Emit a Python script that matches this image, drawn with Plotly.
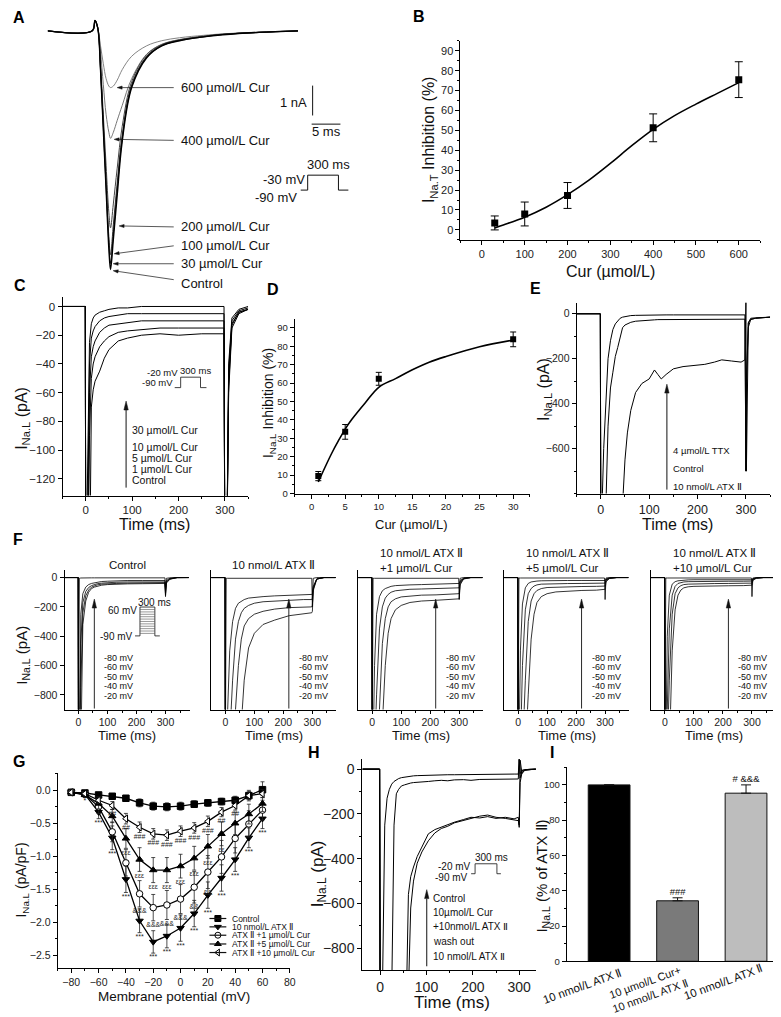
import math
import plotly.graph_objects as go

W, H = 781, 1017
FONT = "Liberation Sans, Arial, Helvetica, sans-serif"

# ---------------- DATA ----------------
# Panel A: transient Na current traces (time in ms, current in nA)
A_time = [-8, 0, 0.5, 1.0, 1.5, 2.0, 2.5, 3.0, 3.3, 3.8, 4.5, 5.4, 7.1, 9.8, 12.5, 15.7, 20, 23.5, 30, 37]
A_control = [0, 0, 0.35, 0.1, -1.3, -3.3, -5.3, -7.3, -8.0, -7.0, -5.5, -3.7, -1.9, -0.9, -0.5, -0.33, -0.2, -0.13, -0.05, 0]
A_cur30 = [0, 0, 0.35, 0.1, -1.3, -3.2, -5.2, -7.1, -7.8, -6.8, -5.3, -3.6, -1.85, -0.88, -0.5, -0.32, -0.2, -0.12, -0.05, 0]
A_cur100 = [0, 0, 0.35, 0.1, -1.25, -3.1, -5.0, -6.9, -7.5, -6.5, -5.1, -3.5, -1.8, -0.85, -0.48, -0.31, -0.19, -0.12, -0.05, 0]
A_cur200 = [0, 0, 0.35, 0.1, -1.1, -2.8, -4.5, -6.1, -6.6, -5.8, -4.6, -3.2, -1.7, -0.8, -0.46, -0.3, -0.18, -0.11, -0.05, 0]
A_cur400 = [0, 0, 0.33, 0.1, -0.7, -1.8, -2.8, -3.4, -3.6, -3.4, -3.0, -2.5, -1.6, -0.78, -0.45, -0.29, -0.18, -0.11, -0.05, 0]
A_cur600 = [0, 0, 0.3, 0.1, -0.5, -1.1, -1.6, -1.85, -1.9, -1.85, -1.65, -1.3, -0.85, -0.5, -0.33, -0.23, -0.15, -0.1, -0.04, 0]
A_labels = ["600 µmol/L Cur", "400 µmol/L Cur", "200 µmol/L Cur", "100 µmol/L Cur", "30 µmol/L Cur", "Control"]

# Panel B
B_cur = [30, 100, 200, 400, 600]
B_inh = [3.5, 8.0, 17.3, 51.3, 75.5]
B_err = [3.5, 6.0, 6.5, 7.0, 9.0]
B_fit_x = [30, 50, 100, 150, 200, 250, 300, 350, 400, 450, 500, 550, 600]
B_fit_y = [1.0, 2.5, 6.4, 11.4, 17.7, 25.0, 33.4, 42.3, 50.5, 57.4, 63.2, 68.6, 74.0]

# Panel C: late Na current (ms, pA)
C_time = [-50, -1, 0, 4, 8, 12, 16, 20, 30, 40, 50, 70, 90, 120, 160, 200, 250, 298, 300, 303, 308, 315, 330, 350]
C_control = [0, 0, -200, -200, -200, -70, -58, -52, -45, -36, -30, -24, -22, -20, -19, -20, -19, -19, -200, -200, -60, -15, -5, -2]
C_cur1 = [0, 0, -200, -200, -90, -50, -40, -35, -28, -24, -21, -18, -17, -16, -15, -15, -15, -15, -200, -200, -55, -13, -4, -2]
C_cur5 = [0, 0, -200, -200, -60, -35, -28, -24, -18, -15, -13, -12, -11, -10, -10, -10, -10, -10, -200, -200, -50, -12, -4, -2]
C_cur10 = [0, 0, -200, -150, -40, -22, -17, -14, -10, -8, -7, -6, -5, -5, -5, -5, -5, -5, -200, -200, -45, -10, -3, -1]
C_cur30 = [0, 0, -200, -120, -25, -12, -8, -6, -4, -3, -2, -1, -1, 0, 0, 0, 0, 0, -200, -200, -40, -8, -2, 0]
C_labels = ["30 µmol/L Cur", "10 µmol/L Cur", "5 µmol/L Cur", "1 µmol/L Cur", "Control"]

# Panel D
D_cur = [1, 5, 10, 30]
D_inh = [9.5, 33.5, 62.3, 83.7]
D_err = [2.5, 4.0, 3.5, 4.0]
D_fit_x = [1, 2, 3, 4, 5, 6, 8, 10, 12.5, 15, 17.5, 20, 25, 30]
D_fit_y = [6.3, 14.3, 21.9, 28.7, 35.0, 40.3, 49.3, 57.7, 62.4, 67.2, 71.3, 74.4, 79.7, 83.3]

# Panel E
E_time = [-50, -1, 0, 2, 6, 10, 15, 20, 25, 30, 35, 40, 45, 50, 55, 62, 72, 85, 100, 111, 118, 125, 135, 150, 170,
          190, 215, 235, 250, 270, 290, 298, 300, 301, 305, 310, 320, 350]
E_ttx = [0, 0, -900, -900, -600, -420, -200, -120, -70, -45, -30, -20, -15, -12, -10, -8, -7, -6, -5, -5, -5, -5,
         -5, -5, -5, -5, -5, -5, -5, -5, -5, -5, -700, -300, -40, -20, -18, -15]
E_control = [0, 0, -900, -900, -900, -900, -500, -330, -260, -190, -150, -100, -62, -50, -45, -38, -33, -30, -28,
             -27, -26, -26, -25, -25, -25, -25, -24, -24, -24, -24, -24, -24, -700, -300, -60, -25, -20, -15]
E_atx = [0, 0, -900, -900, -900, -900, -900, -900, -900, -900, -900, -900, -850, -650, -530, -430, -350, -310,
         -290, -250, -270, -290, -270, -245, -235, -230, -225, -215, -205, -210, -215, -205, 50, -700, -40, -25,
         -20, -15]
E_labels = ["4 µmol/L TTX", "Control", "10 nmol/L ATX Ⅱ"]

# Panel F: late Na current at -80,-60,-50,-40,-20 mV
F_time = [-50, -1, 0, 3, 8, 15, 25, 35, 45, 55, 65, 80, 100, 130, 170, 220, 270, 298, 300, 303, 315, 340, 380]
F_volt_labels = ["-80 mV", "-60 mV", "-50 mV", "-40 mV", "-20 mV"]
F_titles = ["Control", "10 nmol/L ATX Ⅱ", "10 nmol/L ATX Ⅱ<br>+1 µmol/L Cur",
            "10 nmol/L ATX Ⅱ<br>+5 µmol/L Cur", "10 nmol/L ATX Ⅱ<br>+10 µmol/L Cur"]
F_control = [
    [0, 0, -1200, -5, -3, -2, -2, -2, -2, -2, -2, -2, -2, -2, -2, -2, -2, -2, -120, -5, -2, 0, 0],
    [0, 0, -1200, -1200, -250, -110, -65, -48, -40, -35, -30, -27, -25, -22, -20, -20, -20, -20, -70, -20, -5, 0, 0],
    [0, 0, -1200, -1200, -450, -170, -95, -68, -55, -48, -42, -38, -35, -32, -30, -30, -30, -30, -90, -28, -8, 0, 0],
    [0, 0, -1200, -1200, -750, -240, -125, -85, -65, -55, -50, -45, -42, -40, -38, -36, -35, -35, -110, -32, -10, 0, 0],
    [0, 0, -1200, -1200, -1200, -320, -160, -100, -75, -65, -58, -52, -48, -45, -43, -42, -40, -40, -130, -38, -12, 0, 0],
]
F_atx = [
    [0, 0, -1200, -5, -5, -5, -5, -5, -5, -5, -5, -5, -5, -5, -5, -5, -5, -5, -200, -5, 0, 0, 0],
    [0, 0, -1200, -1200, -900, -500, -300, -210, -175, -160, -150, -140, -135, -130, -125, -120, -120, -115, -110, -60, -10, 0, 0],
    [0, 0, -1200, -1200, -1200, -1100, -700, -420, -300, -240, -210, -190, -175, -165, -160, -155, -150, -150, -140, -70, -10, 0, 0],
    [0, 0, -1200, -1200, -1200, -1200, -1200, -900, -600, -420, -330, -280, -250, -230, -215, -205, -200, -200, -190, -80, -10, 0, 0],
    [0, 0, -1200, -1200, -1200, -1200, -1200, -1200, -1200, -1000, -700, -480, -380, -320, -290, -260, -245, -240, -230, -90, -10, 0, 0],
]
F_cur1 = [
    [0, 0, -1200, -5, -5, -5, -5, -5, -5, -5, -5, -5, -5, -5, -5, -5, -5, -5, -150, -5, 0, 0, 0],
    [0, 0, -1200, -1200, -600, -250, -130, -90, -75, -65, -60, -55, -52, -50, -48, -46, -45, -45, -40, -20, -5, 0, 0],
    [0, 0, -1200, -1200, -1200, -800, -350, -200, -140, -115, -100, -90, -85, -80, -78, -76, -75, -75, -70, -30, -5, 0, 0],
    [0, 0, -1200, -1200, -1200, -1200, -900, -450, -280, -200, -165, -145, -132, -125, -120, -118, -115, -115, -110, -40, -8, 0, 0],
    [0, 0, -1200, -1200, -1200, -1200, -1200, -1000, -600, -380, -280, -220, -190, -170, -160, -155, -150, -150, -145, -50, -10, 0, 0],
]
F_cur5 = [
    [0, 0, -1200, -3, -3, -3, -3, -3, -3, -3, -3, -3, -3, -3, -3, -3, -3, -3, -150, -3, 0, 0, 0],
    [0, 0, -1200, -1200, -500, -180, -70, -40, -30, -26, -24, -22, -21, -20, -20, -20, -20, -20, -20, -10, -3, 0, 0],
    [0, 0, -1200, -1200, -1200, -600, -220, -110, -75, -58, -50, -45, -43, -42, -41, -40, -40, -40, -38, -15, -4, 0, 0],
    [0, 0, -1200, -1200, -1200, -1200, -700, -300, -160, -110, -88, -75, -68, -65, -62, -61, -60, -60, -58, -20, -5, 0, 0],
    [0, 0, -1200, -1200, -1200, -1200, -1200, -800, -420, -250, -170, -130, -110, -98, -92, -88, -86, -85, -80, -30, -6, 0, 0],
]
F_cur10 = [
    [0, 0, -1200, -3, -3, -3, -3, -3, -3, -3, -3, -3, -3, -3, -3, -3, -3, -3, -130, -3, 0, 0, 0],
    [0, 0, -1200, -1200, -400, -120, -45, -28, -22, -19, -17, -16, -15, -15, -15, -15, -15, -15, -15, -8, -2, 0, 0],
    [0, 0, -1200, -1200, -900, -350, -120, -60, -40, -33, -30, -28, -27, -26, -25, -25, -25, -25, -24, -10, -3, 0, 0],
    [0, 0, -1200, -1200, -1200, -700, -250, -110, -70, -55, -48, -45, -43, -42, -41, -40, -40, -40, -38, -14, -4, 0, 0],
    [0, 0, -1200, -1200, -1200, -1200, -500, -220, -120, -85, -70, -63, -60, -58, -57, -56, -55, -55, -52, -20, -5, 0, 0],
]

# Panel G: I-V relationship
G_v = [-80, -70, -60, -50, -40, -30, -20, -10, 0, 10, 20, 30, 40, 50, 60]
G_control = [-0.03, -0.04, -0.07, -0.09, -0.12, -0.19, -0.24, -0.25, -0.24, -0.21, -0.19, -0.17, -0.15, -0.08, 0.01]
G_control_err = [0.02, 0.03, 0.03, 0.03, 0.04, 0.06, 0.06, 0.06, 0.06, 0.05, 0.05, 0.05, 0.06, 0.08, 0.12]
G_atx = [-0.03, -0.06, -0.33, -0.72, -1.35, -1.98, -2.30, -2.21, -2.09, -1.87, -1.59, -1.33, -1.05, -0.72, -0.43]
G_atx_err = [0.02, 0.04, 0.10, 0.18, 0.20, 0.18, 0.17, 0.18, 0.20, 0.20, 0.20, 0.20, 0.18, 0.15, 0.15]
G_cur1 = [-0.03, -0.06, -0.25, -0.63, -1.10, -1.57, -1.78, -1.74, -1.65, -1.47, -1.24, -1.01, -0.73, -0.51, -0.30]
G_cur1_err = [0.02, 0.04, 0.10, 0.15, 0.20, 0.20, 0.20, 0.22, 0.22, 0.24, 0.25, 0.25, 0.22, 0.20, 0.15]
G_cur5 = [-0.03, -0.07, -0.20, -0.39, -0.73, -1.05, -1.21, -1.21, -1.15, -1.03, -0.85, -0.66, -0.50, -0.36, -0.20]
G_cur5_err = [0.02, 0.04, 0.08, 0.10, 0.15, 0.18, 0.19, 0.19, 0.18, 0.18, 0.18, 0.18, 0.17, 0.15, 0.12]
G_cur10 = [-0.03, -0.05, -0.15, -0.23, -0.43, -0.56, -0.66, -0.68, -0.62, -0.57, -0.47, -0.33, -0.23, -0.08, -0.05]
G_cur10_err = [0.02, 0.03, 0.05, 0.06, 0.08, 0.08, 0.08, 0.08, 0.08, 0.08, 0.08, 0.07, 0.07, 0.06, 0.06]
G_names = ["Control", "10 nmol/L ATX Ⅱ", "ATX Ⅱ +1 µmol/L Cur", "ATX Ⅱ +5 µmol/L Cur", "ATX Ⅱ +10 µmol/L Cur"]
G_sig_atx = ["", "*", "***", "***", "***", "***", "***", "***", "***", "***", "***", "***", "***", "***", "***"]
G_sig_cur10 = ["", "", "", "##", "##", "###", "###", "###", "###", "###", "###", "##", "##", "", ""]
G_sig_cur5 = ["", "", "", "", "εεε", "εεε", "εεε", "εεε", "εεε", "εεε", "εεε", "εε", "", "", ""]
G_sig_cur1 = ["", "", "", "", "", "&&&", "&&&", "&&&", "&&&", "&&", "&&", "", "", "", ""]

# Panel H
H_time = [-38, -1, 0, 2, 5, 10, 15, 20, 25, 30, 35, 40, 46, 53, 57, 61, 66, 72, 80, 90, 104, 118, 132, 146, 160,
          180, 196, 215, 232, 250, 270, 289, 298, 300, 302, 306, 312, 325, 336]
H_control = [0, 0, -1000, -1000, -1000, -250, -130, -90, -67, -55, -48, -42, -38, -35, -33, -32, -31, -30, -29,
             -28, -27, -26, -26, -25, -25, -24, -24, -23, -23, -22, -22, -22, -22, 45, -20, -5, -2, 0, 0]
H_cur = [0, 0, -1000, -1000, -1000, -1000, -1000, -1000, -1000, -250, -110, -90, -75, -70, -67, -64, -62, -60,
         -58, -56, -55, -52, -50, -52, -48, -47, -50, -46, -45, -44, -45, -44, -44, 45, -40, -8, -3, 0, 0]
H_washout = [0, 0, -1000, -1000, -1000, -1000, -1000, -1000, -1000, -1000, -1000, -1000, -1000, -1000, -1000,
             -1000, -620, -500, -420, -370, -320, -285, -265, -255, -240, -230, -220, -210, -205, -215, -220,
             -225, -230, -250, -60, -15, -5, -2, 0]
H_atx = [0, 0, -1000, -1000, -1000, -1000, -1000, -1000, -1000, -1000, -1000, -1000, -1000, -1000, -1000, -560,
         -480, -437, -390, -348, -289, -270, -259, -250, -237, -225, -215, -218, -212, -220, -215, -222, -215,
         -260, 40, -20, -5, -2, 0]
H_labels = ["Control", "10µmol/L Cur", "+10nmol/L ATX Ⅱ", "wash out", "10 nmol/L ATX Ⅱ"]

# Panel I
I_cats = ["10 nmol/L ATX Ⅱ", "10 µmol/L Cur+<br>10 nmol/L ATX Ⅱ", "10 nmol/L ATX Ⅱ"]
I_vals = [100, 34.3, 95.3]
I_err = [0, 1.7, 4.7]
I_colors = ["#000000", "#7a7a7a", "#bdbdbd"]
I_sig = ["", "###", "# &&&"]

# ---------------- LAYOUT HELPERS ----------------
def dx(x0, x1):
    return [x0 / W, x1 / W]

def dy(y0, y1):
    return [1 - y1 / H, 1 - y0 / H]

def ax(size=11, **kw):
    d = dict(showline=True, linecolor="black", linewidth=1, ticks="outside", ticklen=4, tickwidth=1,
             tickcolor="black", showgrid=False, zeroline=False, fixedrange=True,
             tickfont=dict(family=FONT, size=size, color="#222"))
    d.update(kw)
    return d

def minor(dt, ln=2):
    return dict(ticks="outside", ticklen=ln, dtick=dt, tickcolor="black", showgrid=False)

fig = go.Figure()
layout = dict(width=W, height=H, autosize=False, margin=dict(l=0, r=0, t=0, b=0),
              paper_bgcolor="white", plot_bgcolor="rgba(0,0,0,0)", showlegend=False,
              font=dict(family=FONT, color="#111"))

def set_axes(n, xd, yd, xkw, ykw):
    xn = "xaxis" if n == 1 else f"xaxis{n}"
    yn = "yaxis" if n == 1 else f"yaxis{n}"
    xkw = dict(xkw); ykw = dict(ykw)
    xkw.update(domain=dx(*xd), anchor=("y" if n == 1 else f"y{n}"))
    ykw.update(domain=dy(*yd), anchor=("x" if n == 1 else f"x{n}"))
    layout[xn] = xkw
    layout[yn] = ykw

def refs(n):
    return ("x" if n == 1 else f"x{n}", "y" if n == 1 else f"y{n}")

# Axes
set_axes(1, (40, 295), (8, 268), dict(visible=False, range=[-8, 37.5], fixedrange=True),
         dict(visible=False, range=[-8.17, 0.5], fixedrange=True))
set_axes(2, (456, 758), (33, 233),
         ax(11, range=[-50, 650], tickvals=[0, 100, 200, 300, 400, 500, 600], minor=minor(50)),
         ax(11, range=[-5, 95], tickvals=list(range(0, 91, 10)), minor=minor(5)))
set_axes(3, (55, 242), (290, 490),
         ax(11.5, range=[-50, 350], tickvals=[0, 100, 200, 300], minor=minor(50)),
         ax(11.5, range=[-131.6, 6.9], tickvals=list(range(-120, 1, 20))))
set_axes(4, (289, 526), (313, 488),
         ax(9.5, range=[-2.5, 32.5], tickvals=[0, 5, 10, 15, 20, 25, 30], minor=minor(2.5)),
         ax(9.5, range=[0, 94.5], tickvals=list(range(0, 91, 10)), minor=minor(5)))
set_axes(5, (573, 768), (296, 488),
         ax(12.5, range=[-50, 350], tickvals=[0, 100, 200, 300], minor=minor(50)),
         ax(10.5, range=[-800, 50], tickvals=[0, -200, -400, -600], minor=minor(100)))
F_spines = [57, 205, 353, 500, 648]
for i, sx in enumerate(F_spines):
    n = 6 + i
    if i == 0:
        ykw = ax(10.5, range=[-900, 50], tickvals=[0, -200, -400, -600, -800])
    else:
        ykw = ax(10.5, range=[-900, 50], ticks="", showticklabels=False)
    set_axes(n, (sx, sx + 126), (565, 705),
             ax(10.5, range=[-48, 383], tickvals=[0, 100, 200, 300], minor=minor(50), ticklen=3), ykw)
set_axes(11, (50, 284), (769, 965),
         ax(10.5, range=[-90, 80], tickvals=list(range(-80, 81, 20)), minor=minor(10)),
         ax(10.5, range=[-2.7, 0.26], tickvals=[0, -0.5, -1.0, -1.5, -2.0, -2.5], tickformat=".1f",
            minor=minor(0.25)))
set_axes(12, (357, 532), (755, 967),
         ax(14, range=[-38.5, 336], tickvals=[0, 100, 200, 300], minor=minor(50)),
         ax(14, range=[-898, 44], tickvals=[0, -200, -400, -600, -800], minor=minor(100)))
set_axes(13, (563, 781), (763, 958),
         ax(12, range=[-0.62, 2.54], tickvals=[0, 1, 2], showticklabels=False, ticks=""),
         ax(9.5, range=[0, 110], tickvals=[0, 20, 40, 60, 80, 100], minor=minor(10)))
# pixel overlay axes for decorations
layout["xaxis14"] = dict(domain=[0, 1], range=[0, W], visible=False, anchor="y14", fixedrange=True)
layout["yaxis14"] = dict(domain=[0, 1], range=[H, 0], visible=False, anchor="x14", fixedrange=True)

annotations = []
shapes = []

def txt(x, y, s, size, xanchor="left", yanchor="middle", bold=False, angle=0, align="left", color="#111"):
    annotations.append(dict(x=x, y=y, xref="x14", yref="y14", text=(f"<b>{s}</b>" if bold else s),
                            showarrow=False, xanchor=xanchor, yanchor=yanchor, textangle=angle, align=align,
                            font=dict(family=FONT, size=size, color=color)))

def path(pts, width=1, color="#111", fill=None):
    p = "M" + " L".join(f"{x:.2f},{y:.2f}" for x, y in pts)
    if fill:
        p += " Z"
    s = dict(type="path", path=p, xref="x14", yref="y14", line=dict(color=color, width=width))
    if fill:
        s["fillcolor"] = fill
    shapes.append(s)

def arrow(x0, y0, x1, y1, hl=6, hw=2.2, width=0.9):
    L = math.hypot(x1 - x0, y1 - y0)
    ux, uy = (x1 - x0) / L, (y1 - y0) / L
    bx, by = x1 - ux * hl, y1 - uy * hl
    path([(x0, y0), (bx, by)], width=width)
    path([(x1, y1), (bx - uy * hw, by + ux * hw), (bx + uy * hw, by - ux * hw)], width=0.5, fill="#111")

# ---------------- PANEL A ----------------
xa, ya = refs(1)
A_series = [(A_cur600, "#777", 0.9), (A_cur400, "#666", 0.9), (A_cur200, "#444", 1.0),
            (A_cur100, "#333", 1.0), (A_cur30, "#222", 1.1), (A_control, "#000", 1.4)]
for ys, col, w in A_series:
    fig.add_trace(go.Scatter(x=A_time, y=ys, mode="lines", line=dict(color=col, width=w, shape="spline"),
                             xaxis=xa, yaxis=ya, hoverinfo="skip"))
A_text_y = [80, 133, 220, 239, 257, 277]
A_head = [(110, 80), (107, 132), (112, 219), (107, 247), (106, 257), (106, 264)]
A_tail_y = [80, 133, 220, 239, 257, 273]
for lab, ty, hd, tl in zip(A_labels, A_text_y, A_head, A_tail_y):
    txt(172, ty, lab, 13)
    arrow(167, tl, hd[0], hd[1], hl=5, hw=1.6, width=0.7)
path([(307, 78), (307, 108)])
path([(306, 116.7), (335, 116.7)])
txt(303, 95, "1 nA", 13, xanchor="right")
txt(321, 124, "5 ms", 13, xanchor="center")
path([(295, 183), (302, 183), (302, 168), (333, 168), (333, 183), (343, 183)])
txt(323, 157, "300 ms", 13, xanchor="center")
txt(301, 172.5, "-30 mV", 13, xanchor="right")
txt(293, 190, "-90 mV", 13, xanchor="right")

# ---------------- PANEL B ----------------
xa, ya = refs(2)
fig.add_trace(go.Scatter(x=B_fit_x, y=B_fit_y, mode="lines", line=dict(color="black", width=1.6, shape="spline"),
                         xaxis=xa, yaxis=ya, hoverinfo="skip"))
fig.add_trace(go.Scatter(x=B_cur, y=B_inh, mode="markers", marker=dict(symbol="square", size=7, color="black"),
                         error_y=dict(type="data", array=B_err, color="black", thickness=1, width=4),
                         xaxis=xa, yaxis=ya, hoverinfo="skip"))
txt(607, 265, "Cur (µmol/L)", 16, xanchor="center")
txt(425, 132, "I<sub>Na.T</sub> Inhibition (%)", 16, xanchor="center", angle=-90)

# ---------------- PANEL C ----------------
xa, ya = refs(3)
for ys in [C_control, C_cur1, C_cur5, C_cur10, C_cur30]:
    fig.add_trace(go.Scatter(x=C_time, y=ys, mode="lines", line=dict(color="black", width=1),
                             xaxis=xa, yaxis=ya, hoverinfo="skip"))
txt(148, 519, "Time (ms)", 16, xanchor="center")
txt(15, 412, "I<sub>Na.L</sub> (pA)", 16, xanchor="center", angle=-90)
for lab, yy in zip(C_labels, [424, 441, 452, 463, 474]):
    txt(123, yy, lab, 10.5)
arrow(119, 482, 119, 395, hl=9, hw=2.2, width=1)
path([(168, 381.5), (174, 381.5), (174, 371), (194, 371), (194, 381.5), (200, 381.5)], width=0.8)
txt(173, 366.5, "-20 mV", 9.5, xanchor="right")
txt(168, 376, "-90 mV", 9.5, xanchor="right")
txt(189, 364, "300 ms", 9.5, xanchor="center")

# ---------------- PANEL D ----------------
xa, ya = refs(4)
fig.add_trace(go.Scatter(x=D_fit_x, y=D_fit_y, mode="lines", line=dict(color="black", width=1.6, shape="spline"),
                         xaxis=xa, yaxis=ya, hoverinfo="skip"))
fig.add_trace(go.Scatter(x=D_cur, y=D_inh, mode="markers", marker=dict(symbol="square", size=6, color="black"),
                         error_y=dict(type="data", array=D_err, color="black", thickness=1, width=3),
                         xaxis=xa, yaxis=ya, hoverinfo="skip"))
txt(407, 519, "Cur (µmol/L)", 13, xanchor="center")
txt(263, 397, "I<sub>Na.L</sub> Inhibition (%)", 14, xanchor="center", angle=-90)

# ---------------- PANEL E ----------------
xa, ya = refs(5)
for ys in [E_atx, E_control, E_ttx]:
    fig.add_trace(go.Scatter(x=E_time, y=ys, mode="lines", line=dict(color="black", width=1),
                             xaxis=xa, yaxis=ya, hoverinfo="skip"))
txt(675, 519, "Time (ms)", 16, xanchor="center")
txt(540, 383, "I<sub>Na.L</sub> (pA)", 16, xanchor="center", angle=-90)
for lab, yy in zip(E_labels, [445, 463, 481]):
    txt(668, yy, lab, 9.5)
arrow(664, 484, 664, 378, hl=9, hw=2.2, width=1)

# ---------------- PANEL F ----------------
F_sets = [F_control, F_atx, F_cur1, F_cur5, F_cur10]
for i, (sx, traces, title) in enumerate(zip(F_spines, F_sets, F_titles)):
    xa, ya = refs(6 + i)
    for ys in traces:
        fig.add_trace(go.Scatter(x=F_time, y=ys, mode="lines", line=dict(color="black", width=0.8),
                                 xaxis=xa, yaxis=ya, hoverinfo="skip"))
    txt(sx + 63, 731, "Time (ms)", 13, xanchor="center")
    if i < 2:
        txt(sx + 63, 560, title, 11.5, xanchor="center")
    else:
        txt(sx + 20, 555, title, 11.5, xanchor="left", align="left")
    ax_x = sx + 30 if i == 0 else sx + 78
    lab_x = sx + 38 if i == 0 else sx + 86
    arrow(ax_x, 704, ax_x, 594, hl=9, hw=2.2, width=0.9)
    for lab, yy in zip(F_volt_labels, [653, 662.5, 672, 681.5, 691]):
        txt(lab_x, yy, lab, 9)
txt(15, 650, "I<sub>Na.L</sub> (pA)", 15, xanchor="center", angle=-90)
# stimulation ladder inset in control panel
path([(128, 631), (133, 631), (133, 602), (148, 602), (148, 631), (153, 631)], width=0.8)
for k in range(11):
    yk = 604.5 + k * 2.4
    path([(133, yk), (148, yk)], width=0.6, color="#555")
txt(148, 597, "300 ms", 10, xanchor="center")
txt(132, 605, "60 mV", 10, xanchor="right")
txt(128, 632, "-90 mV", 10, xanchor="right")

# ---------------- PANEL G ----------------
xa, ya = refs(11)
G_series = [
    (G_control, G_control_err, "square", "black"),
    (G_atx, G_atx_err, "triangle-down", "black"),
    (G_cur1, G_cur1_err, "circle", "white"),
    (G_cur5, G_cur5_err, "triangle-up", "black"),
    (G_cur10, G_cur10_err, "triangle-left", "white"),
]
for ys, es, sym, fill in G_series:
    fig.add_trace(go.Scatter(x=G_v, y=ys, mode="lines+markers",
                             line=dict(color="black", width=1.3),
                             marker=dict(symbol=sym, size=6.5, color=fill, line=dict(color="black", width=1)),
                             error_y=dict(type="data", array=es, color="#222", thickness=0.8, width=2),
                             xaxis=xa, yaxis=ya, hoverinfo="skip"))
for ys, es, labs in [(G_atx, G_atx_err, G_sig_atx), (G_cur10, G_cur10_err, G_sig_cur10),
                     (G_cur5, G_cur5_err, G_sig_cur5), (G_cur1, G_cur1_err, G_sig_cur1)]:
    keep = [k for k, s in enumerate(labs) if s]
    fig.add_trace(go.Scatter(x=[G_v[k] for k in keep], y=[ys[k] - es[k] - 0.07 for k in keep],
                             mode="text", text=[labs[k] for k in keep],
                             textfont=dict(family=FONT, size=7, color="#222"), textposition="middle center",
                             xaxis=xa, yaxis=ya, hoverinfo="skip"))
txt(167, 993, "Membrane potential (mV)", 13.5, xanchor="center")
txt(14, 876, "I<sub>Na.L</sub> (pA/pF)", 14, xanchor="center", angle=-90)
# legend keys
G_leg_y = [915, 923.4, 931.8, 940.6, 949.2]
for yy in G_leg_y:
    path([(203, yy), (220, yy)], width=1.2)
fig.add_trace(go.Scatter(x=[211.5] * 5, y=G_leg_y, mode="markers",
                         marker=dict(symbol=[s[2] for s in G_series], color=[s[3] for s in G_series],
                                     size=6, line=dict(color="black", width=1)),
                         xaxis="x14", yaxis="y14", hoverinfo="skip"))
for name, yy in zip(G_names, G_leg_y):
    txt(224, yy, name, 8.5)

# ---------------- PANEL H ----------------
xa, ya = refs(12)
for ys in [H_atx, H_washout, H_cur, H_control]:
    fig.add_trace(go.Scatter(x=H_time, y=ys, mode="lines", line=dict(color="black", width=1),
                             xaxis=xa, yaxis=ya, hoverinfo="skip"))
txt(447, 999, "Time (ms)", 17, xanchor="center")
txt(313, 870, "I<sub>Na.L</sub> (pA)", 17, xanchor="center", angle=-90)
for lab, yy in zip(H_labels, [895, 909, 923.5, 938.5, 953.5]):
    txt(426, yy, lab, 10)
arrow(422, 963, 422, 886, hl=9, hw=2.2, width=1)
path([(466.7, 870), (470.7, 870), (470.7, 860), (492.7, 860), (492.7, 870), (496.7, 870)], width=0.8)
txt(469, 863, "-20 mV", 10, xanchor="right")
txt(466, 873.5, "-90 mV", 10, xanchor="right")
txt(487, 853.5, "300 ms", 10, xanchor="center")

# ---------------- PANEL I ----------------
xa, ya = refs(13)
fig.add_trace(go.Bar(x=[0, 1, 2], y=I_vals, width=0.61, marker=dict(color=I_colors, line=dict(color="#111", width=1)),
                     error_y=dict(type="data", array=I_err, arrayminus=[0, 0, 0], symmetric=False,
                                  color="#111", thickness=1, width=5),
                     xaxis=xa, yaxis=ya, hoverinfo="skip"))
keep = [k for k, s in enumerate(I_sig) if s]
fig.add_trace(go.Scatter(x=keep, y=[I_vals[k] + I_err[k] for k in keep], mode="text",
                         text=[I_sig[k] for k in keep],
                         textposition="top center", textfont=dict(family=FONT, size=9.5, color="#111"),
                         xaxis=xa, yaxis=ya, hoverinfo="skip"))
for lab, (cx, cy, fs) in zip(I_cats, [(579, 983, 11.5), (644, 986, 11), (721, 979, 11.5)]):
    txt(cx, cy, lab, fs, xanchor="center", angle=-20, align="center")
txt(539, 872, "I<sub>Na.L</sub> (% of ATX Ⅱ)", 15, xanchor="center", angle=-90)

# ---------------- PANEL LETTERS ----------------
for lab, x, y in [("A", 3, 10), ("B", 406, 9), ("C", 4, 279), ("D", 259, 283), ("E", 524, 282),
                  ("F", 3, 534), ("G", 3, 757), ("H", 300, 748), ("I", 544, 748)]:
    txt(x, y, lab, 16, bold=True, color="#000")

layout["annotations"] = annotations
layout["shapes"] = shapes
fig.update_layout(**layout)
fig.write_html("out.html")
